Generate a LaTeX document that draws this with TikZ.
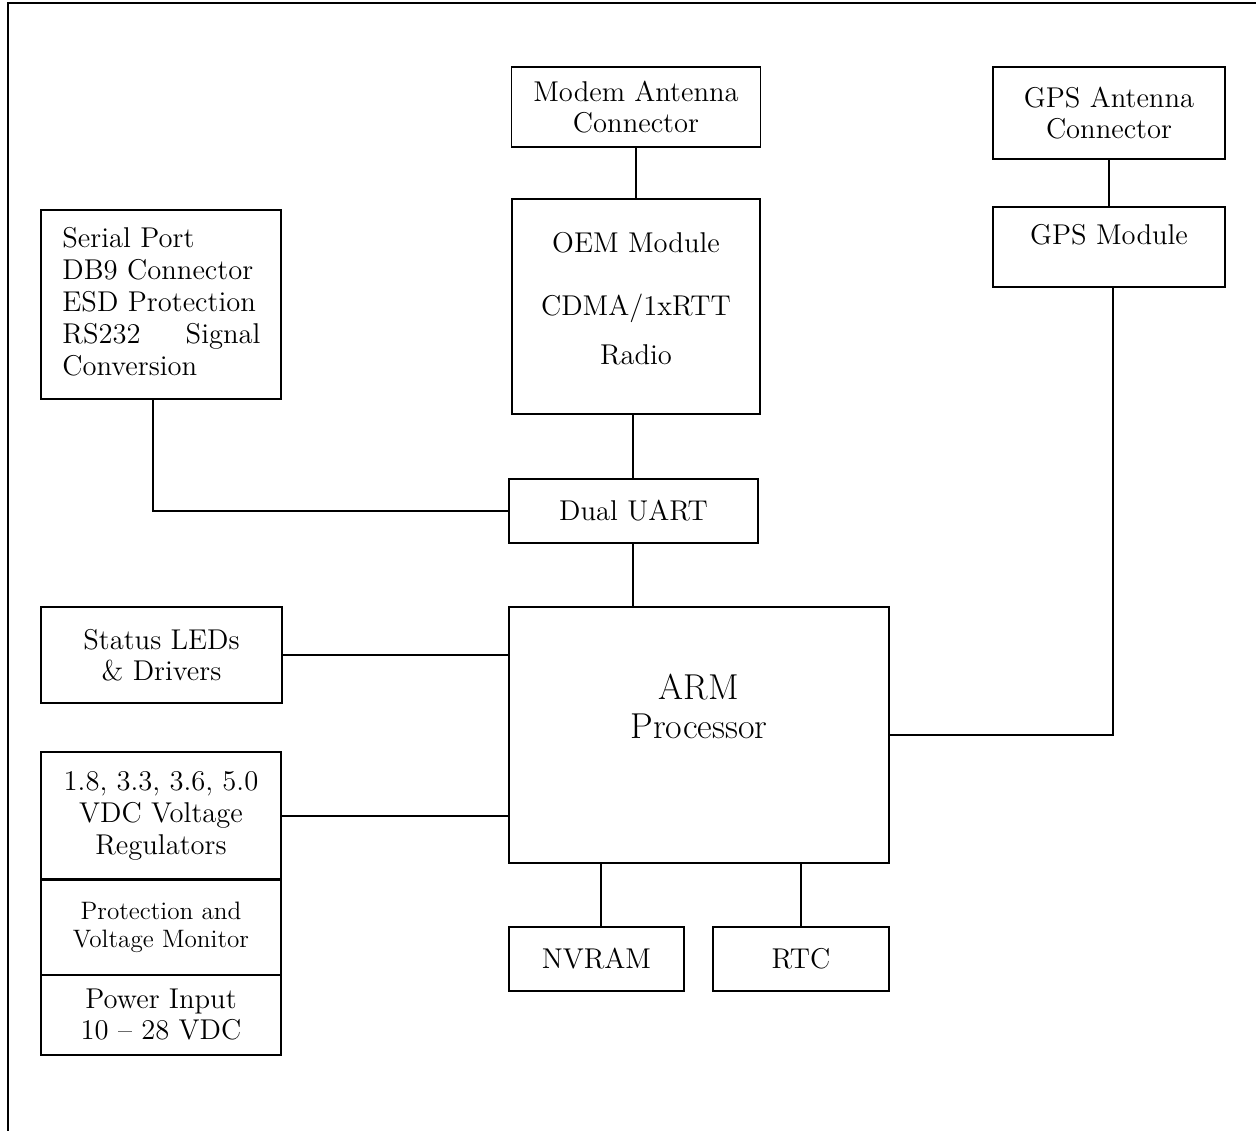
\documentclass[tikz,border=0pt]{standalone}
\usepackage{fontspec}
\begin{document}
\begin{tikzpicture}[x=0.5pt,y=-0.5pt,
  box/.style={draw,line width=0.9pt,inner sep=0pt,align=center,font=\fontsize{14.3}{15.5}\selectfont},
  txt/.style={inner sep=0pt,align=center,font=\fontsize{14.3}{15.5}\selectfont},
  wire/.style={line width=0.9pt},
  frame/.style={line width=1.2pt}]
\useasboundingbox (0,0) rectangle (1256,1131);
\draw[frame] (1256,3) -- (8,3) -- (8,1131);

% top row
\node[box,minimum width=124.5pt,minimum height=40pt] (modem) at (636,107) {Modem Antenna\\Connector};
\node[box,minimum width=124pt,minimum height=107.5pt] (oem) at (636,306.5) {};
\node[txt] (oem1) at (636,243) {OEM Module};
\node[txt] (oem2) at (636,308) {CDMA/1xRTT};
\node[txt] (oem3) at (636,355) {Radio};

\node[box,minimum width=116pt,minimum height=46pt] (gpsant) at (1109,113) {GPS Antenna\\Connector};
\node[box,minimum width=116pt,minimum height=40pt] (gpsmod) at (1109,247) {};
\node[txt] (gpsmodt) at (1109,235) {GPS Module};

\node[box,minimum width=120pt,minimum height=94.5pt] (serial) at (161,304.5) {};
\node[txt,anchor=west,text width=99pt,align=left,font=\fontsize{14.3}{16}\selectfont] (serialt) at (62,302)
  {Serial Port\\DB9 Connector\\ESD Protection\\RS232\hfill Signal\\Conversion};

\node[box,minimum width=124.5pt,minimum height=32pt] (uart) at (633.5,511) {Dual UART};

\node[box,minimum width=190pt,minimum height=128pt] (arm) at (699,735) {};
\node[txt,font=\fontsize{18}{19.5}\selectfont] (armt) at (699,706) {ARM\\Processor};

\node[box,minimum width=120.5pt,minimum height=48pt] (status) at (161.5,655) {Status LEDs\\\& Drivers};

\node[box,minimum width=120pt,minimum height=64pt,font=\fontsize{14.3}{16.2}\selectfont] (reg) at (161,816) {1.8, 3.3, 3.6, 5.0\\VDC Voltage\\Regulators};
\node[box,minimum width=120pt,minimum height=48pt,font=\fontsize{12.6}{14}\selectfont,line width=0.6pt] (prot) at (161,927) {Protection and\\Voltage Monitor};
\node[box,minimum width=120pt,minimum height=40pt] (power) at (161,1015) {Power Input\\10 -- 28 VDC};

\node[box,minimum width=87.5pt,minimum height=32pt] (nvram) at (596.5,959) {NVRAM};
\node[box,minimum width=88pt,minimum height=32pt] (rtc) at (801,959) {RTC};

% connectors
\draw[wire] (modem.south) -- (oem.north);
\draw[wire] (gpsant.south) -- (gpsmod.north);
\draw[wire] ([xshift=-1.5pt]oem.south) -- ([xshift=-1.5pt]oem.south |- uart.north);
\draw[wire] ([xshift=-0.25pt]uart.south) -- ([xshift=-0.25pt]uart.south |- arm.north);
\draw[wire] ([xshift=-4pt]serial.south) |- (uart.west);
\draw[wire] (status.east) -- (status.east -| arm.west);
\draw[wire] (reg.east) -- (reg.east -| arm.west);
\draw[wire] ([xshift=2.25pt]nvram.north) -- ([xshift=2.25pt]nvram.north |- arm.south);
\draw[wire] (rtc.north) -- (rtc.north |- arm.south);
\draw[wire] ([xshift=2pt]gpsmod.south) |- (arm.east);
\end{tikzpicture}
\end{document}
